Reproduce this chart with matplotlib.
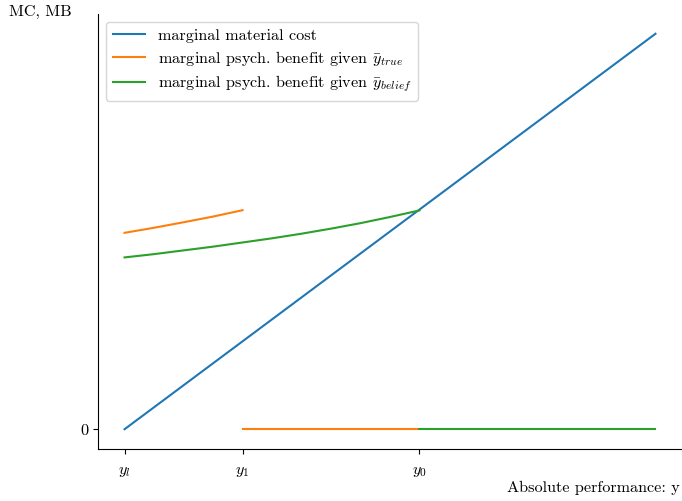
import numpy as np
import matplotlib.pyplot as plt

plt.rcParams['font.family'] = 'serif'
plt.rcParams['font.serif'] = ['cmr10']
plt.rcParams['mathtext.fontset'] = 'cm'
plt.rcParams['axes.formatter.use_mathtext'] = True
plt.rcParams['font.size'] = 11.7

# performance levels
y_l, y_1, y_0, y_max = 0, 4, 10, 18

# marginal material cost (linear)
mc_x = [y_l, y_max]
mc_y = [0, 18]

# marginal psych. benefit given the true reference point
mb_true_x = [0, 1, 2, 3, 4]
mb_true_y = [8.94, 9.17, 9.42, 9.68, 9.97]
zero_true_x = [y_1, y_0]

# marginal psych. benefit given the believed reference point
mb_belief_x = [0, 1, 2, 3, 4, 5, 6, 7, 8, 9, 10]
mb_belief_y = [7.82, 7.97, 8.14, 8.31, 8.50, 8.69, 8.90, 9.13, 9.38, 9.66, 9.96]
zero_belief_x = [y_0, y_max]

tick_pos = [y_l, y_1, y_0]
tick_labels = [r'$y_l$', r'$y_1$', r'$y_0$']

fig = plt.figure(figsize=(6.82, 5.01), dpi=100)
ax = fig.add_axes([98/682, 52/501, 584/682, 435/501])

ax.plot(mc_x, mc_y, color='C0', label='marginal material cost')
ax.plot(mb_true_x, mb_true_y, color='C1',
        label=r'marginal psych. benefit given $\bar{y}_{true}$')
ax.plot(zero_true_x, [0, 0], color='C1')
ax.plot(mb_belief_x, mb_belief_y, color='C2',
        label=r'marginal psych. benefit given $\bar{y}_{belief}$')
ax.plot(zero_belief_x, [0, 0], color='C2')

ax.set_xticks(tick_pos)
ax.set_xticklabels(tick_labels)
ax.tick_params(axis='x', pad=8)
ax.set_yticks([0])
ax.set_yticklabels(['0'])

ax.spines['top'].set_visible(False)
ax.spines['right'].set_visible(False)

ax.set_xlabel('Absolute performance: y', ha='right')
ax.xaxis.set_label_coords(0.9966, -0.072)
ax.set_ylabel('MC, MB', rotation=0, ha='center', va='center')
ax.yaxis.set_label_coords(-0.098, 1.005)

ax.legend(loc='upper left', labelspacing=0.35)

fig.savefig('out.png', dpi=100)
